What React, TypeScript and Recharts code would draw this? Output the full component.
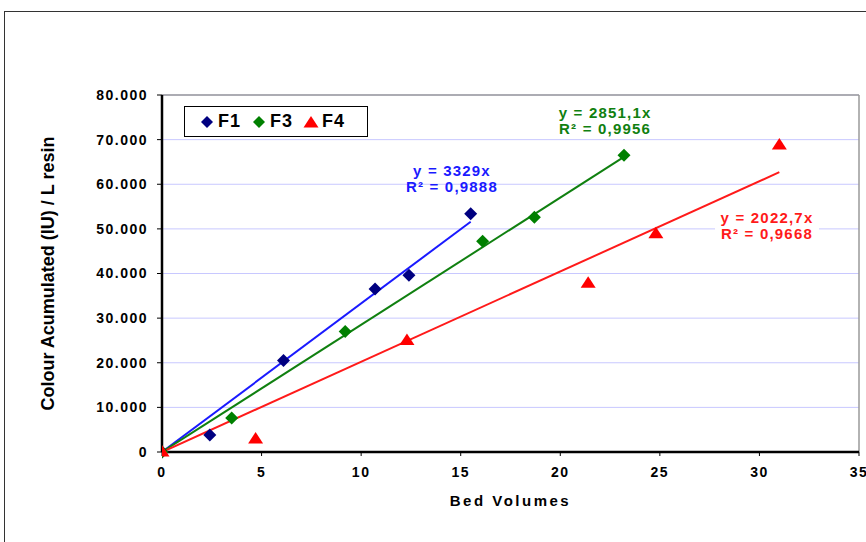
import { ScatterChart, Scatter, XAxis, YAxis, CartesianGrid, Legend, ReferenceLine, ReferenceDot } from 'recharts';

// Bed volumes vs accumulated colour
const f1X = [0, 2.4, 6.1, 10.7, 12.4, 15.5];
const f1Y = [0, 3800, 20500, 36500, 39600, 53400];
const f3X = [0, 3.5, 9.2, 16.1, 18.7, 23.2];
const f3Y = [0, 7600, 27000, 47200, 52600, 66500];
const f4X = [0, 4.7, 12.3, 21.4, 24.8, 31.0];
const f4Y = [0, 2900, 25000, 37800, 48900, 68800];

const seriesNames = ['F1', 'F3', 'F4'];
const slopes = [3329, 2851.1, 2022.7];
const r2 = ['0,9888', '0,9956', '0,9668'];
const eqText = ['y = 3329x', 'y = 2851,1x', 'y = 2022,7x'];

const xTicks = [0, 5, 10, 15, 20, 25, 30, 35];
const yTicks = [0, 10000, 20000, 30000, 40000, 50000, 60000, 70000, 80000];

// where the trendline equations sit (data coordinates)
const eqPos = [
  { x: 14.56, y: 61200 },
  { x: 22.25, y: 74200 },
  { x: 30.38, y: 50650 },
];

const pointColors = ['#000080', '#008000', '#ff0000'];
const lineColors = ['#1a1aff', '#108010', '#ff1a1a'];
const textColors = ['#1a1aff', '#108010', '#ff1a1a'];

const toPts = (xs: number[], ys: number[]) => xs.map((x, i) => ({ x, y: ys[i] }));
const series = [toPts(f1X, f1Y), toPts(f3X, f3Y), toPts(f4X, f4Y)];
const trends = series.map((pts, i) => {
  const maxX = Math.max(...pts.map((p) => p.x));
  return [{ x: 0, y: 0 }, { x: maxX, y: slopes[i] * maxX }];
});

const fmtThousands = (v: number) => String(v).replace(/\B(?=(\d{3})+(?!\d))/g, '.');

const FONT = '"Liberation Sans", Arial, sans-serif';

const Diamond = (color: string) => (props: any) => {
  const { cx, cy } = props;
  return <polygon points={`${cx},${cy - 6.5} ${cx + 6.5},${cy} ${cx},${cy + 6.5} ${cx - 6.5},${cy}`} fill={color} />;
};

const Triangle = (color: string) => (props: any) => {
  const { cx, cy } = props;
  return <polygon points={`${cx},${cy - 7} ${cx + 7.5},${cy + 4.5} ${cx - 7.5},${cy + 4.5}`} fill={color} />;
};

const NoShape = () => <g />;

const shapes = [Diamond(pointColors[0]), Diamond(pointColors[1]), Triangle(pointColors[2])];

const EqLabel = (i: number) => (props: any) => {
  const vb = props.viewBox || {};
  const cx = (vb.x || 0) + (vb.width || 0) / 2;
  const cy = (vb.y || 0) + (vb.height || 0) / 2;
  return (
    <g>
      {i === 2 && <rect x={cx - 52} y={cy - 17} width={104} height={34} fill="#fff" />}
      <text
        x={cx}
        y={cy - 3}
        textAnchor="middle"
        fill={textColors[i]}
        fontFamily={FONT}
        fontWeight="bold"
        fontSize={15}
        letterSpacing={1.2}
      >
        <tspan x={cx} dy={0}>{eqText[i]}</tspan>
        <tspan x={cx} dy={16}>{`R² = ${r2[i]}`}</tspan>
      </text>
    </g>
  );
};

const LegendBox = () => (
  <div
    style={{
      width: 182,
      height: 29,
      border: '1px solid #000',
      background: '#fff',
      display: 'flex',
      alignItems: 'center',
      fontFamily: FONT,
      fontWeight: 'bold',
      fontSize: 18,
      letterSpacing: 1,
      color: '#000',
      boxSizing: 'content-box',
    }}
  >
    {seriesNames.map((name, i) => (
      <div key={name} style={{ display: 'flex', alignItems: 'center', marginLeft: i === 0 ? 14 : 10 }}>
        <svg width={16} height={14} style={{ marginRight: 3 }}>
          {i < 2 ? (
            <polygon points="8,1 14,7 8,13 2,7" fill={pointColors[i]} />
          ) : (
            <polygon points="8,1 15.5,12.5 0.5,12.5" fill={pointColors[i]} />
          )}
        </svg>
        <span>{name}</span>
      </div>
    ))}
  </div>
);

export default function App() {
  return (
    <div
      style={{
        position: 'fixed',
        left: 0,
        top: 0,
        width: 866,
        height: 542,
        overflow: 'hidden',
        background: '#fff',
      }}
    >
      <div
        style={{
          position: 'absolute',
          left: 4,
          top: 11,
          width: 900,
          height: 600,
          border: '1.5px solid #333',
        }}
      />
      <div style={{ position: 'absolute', left: 0, top: 0 }}>
        <ScatterChart width={866} height={542} margin={{ top: 95, right: 7, bottom: 30, left: 0 }}>
          <CartesianGrid vertical={false} stroke="#c8c8ff" strokeWidth={1} />
          <XAxis
            type="number"
            dataKey="x"
            domain={[0, 35]}
            ticks={xTicks}
            interval={0}
            allowDataOverflow
            height={60}
            axisLine={{ stroke: '#000', strokeWidth: 2.5 }}
            tickLine={{ stroke: '#000' }}
            tickSize={4}
            tickMargin={11}
            tick={{ fill: '#000', fontFamily: FONT, fontWeight: 'bold', fontSize: 14, letterSpacing: 1.5 }}
            label={(props: any) => {
              const vb = props.viewBox || {};
              return (
                <text
                  x={vb.x + vb.width / 2}
                  y={506}
                  textAnchor="middle"
                  fill="#000"
                  fontFamily={FONT}
                  fontWeight="bold"
                  fontSize={15}
                  letterSpacing={2.5}
                >
                  Bed Volumes
                </text>
              );
            }}
          />
          <YAxis
            type="number"
            dataKey="y"
            domain={[0, 80000]}
            ticks={yTicks}
            interval={0}
            width={162}
            axisLine={{ stroke: '#000', strokeWidth: 2.5 }}
            tickLine={{ stroke: '#000' }}
            tickSize={5}
            tickMargin={9}
            tickFormatter={fmtThousands}
            tick={{ fill: '#000', fontFamily: FONT, fontWeight: 'bold', fontSize: 14, letterSpacing: 1.5 }}
            label={(props: any) => {
              const vb = props.viewBox || {};
              const cy = vb.y + vb.height / 2;
              return (
                <text
                  x={48}
                  y={cy}
                  transform={`rotate(-90, 48, ${cy})`}
                  textAnchor="middle"
                  dominantBaseline="central"
                  fill="#000"
                  fontFamily={FONT}
                  fontWeight="bold"
                  fontSize={18}
                >
                  Colour Acumulated (IU) / L resin
                </text>
              );
            }}
          />
          <ReferenceLine y={80000} stroke="#9a9a9a" strokeWidth={1.5} />
          <ReferenceLine x={35} stroke="#9a9a9a" strokeWidth={1.5} />
          <Legend
            layout="horizontal"
            verticalAlign="middle"
            align="center"
            wrapperStyle={{ position: 'absolute', left: 184, top: 106, width: 184, height: 31 }}
            content={() => <LegendBox />}
          />
          {trends.map((t, i) => (
            <Scatter
              key={`trend-${i}`}
              name={`${seriesNames[i]} trend`}
              data={t}
              line={{ stroke: lineColors[i], strokeWidth: 2 }}
              shape={NoShape}
              legendType="none"
              isAnimationActive={false}
            />
          ))}
          {series.map((pts, i) => (
            <Scatter
              key={seriesNames[i]}
              name={seriesNames[i]}
              data={pts}
              fill={pointColors[i]}
              shape={shapes[i]}
              isAnimationActive={false}
            />
          ))}
          {eqPos.map((p, i) => (
            <ReferenceDot
              key={`eq-${i}`}
              x={p.x}
              y={p.y}
              r={0}
              fill="none"
              stroke="none"
              label={EqLabel(i)}
            />
          ))}
        </ScatterChart>
      </div>
    </div>
  );
}
